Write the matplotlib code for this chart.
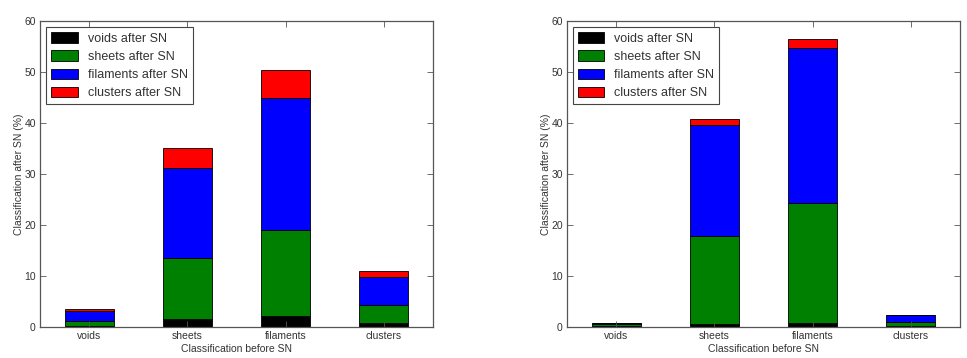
import numpy as np
import matplotlib
matplotlib.use("Agg")
import matplotlib.pyplot as plt

categories = ["voids", "sheets", "filaments", "clusters"]
series_names = ["voids after SN", "sheets after SN", "filaments after SN", "clusters after SN"]
colors = ["black", "green", "blue", "red"]

# left panel
left_voids = [0.1, 1.57, 2.16, 0.78]
left_sheets = [1.14, 11.9, 16.8, 3.47]
left_filaments = [1.86, 17.8, 26.0, 5.55]
left_clusters = [0.4, 3.9, 5.5, 1.25]

# right panel
right_voids = [0.2, 0.6, 0.8, 0.1]
right_sheets = [0.3, 17.3, 23.6, 0.8]
right_filaments = [0.25, 21.7, 30.3, 1.4]
right_clusters = [0.03, 1.2, 1.7, 0.02]

yticks = [0, 10, 20, 30, 40, 50, 60]

plt.rcParams['font.family'] = ['Liberation Sans', 'DejaVu Sans']

fig = plt.figure(figsize=(9.67, 3.58), dpi=100)
ax1 = fig.add_axes([0.0414, 0.0866, 0.4064, 0.8547])
ax2 = fig.add_axes([0.5863, 0.0866, 0.4064, 0.8547])

textc = '#333333'

def draw(ax, data):
    x = np.arange(len(categories))
    bottom = np.zeros(len(categories))
    for name, vals, c in zip(series_names, data, colors):
        vals = np.array(vals)
        ax.bar(x, vals, width=0.5, bottom=bottom, color=c, edgecolor='black',
               linewidth=0.6, label=name)
        bottom += vals
    ax.set_xlim(-0.5, len(categories) - 0.5)
    ax.set_ylim(0, 60)
    ax.set_yticks(yticks)
    ax.set_xticks(x)
    ax.set_xticklabels(categories)
    ax.tick_params(direction='in', top=True, right=True, labelsize=7.5,
                   colors='#555555', labelcolor=textc, length=4, width=0.6, pad=3)
    for s in ax.spines.values():
        s.set_color('#555555')
        s.set_linewidth(0.9)
    ax.set_xlabel("Classification before SN", fontsize=7.5, color=textc, labelpad=2)
    ax.set_ylabel("Classification after SN (%)", fontsize=7.5, color=textc, labelpad=0)
    leg = ax.legend(loc='upper left', fontsize=9, fancybox=False, framealpha=1,
                    borderaxespad=0.5, handlelength=2.1, handleheight=0.9,
                    labelspacing=0.45, borderpad=0.4, handletextpad=0.8)
    leg.get_frame().set_edgecolor('#444444')
    leg.get_frame().set_linewidth(0.8)
    for t in leg.get_texts():
        t.set_color(textc)

draw(ax1, [left_voids, left_sheets, left_filaments, left_clusters])
draw(ax2, [right_voids, right_sheets, right_filaments, right_clusters])

fig.savefig("out.png", dpi=100)
